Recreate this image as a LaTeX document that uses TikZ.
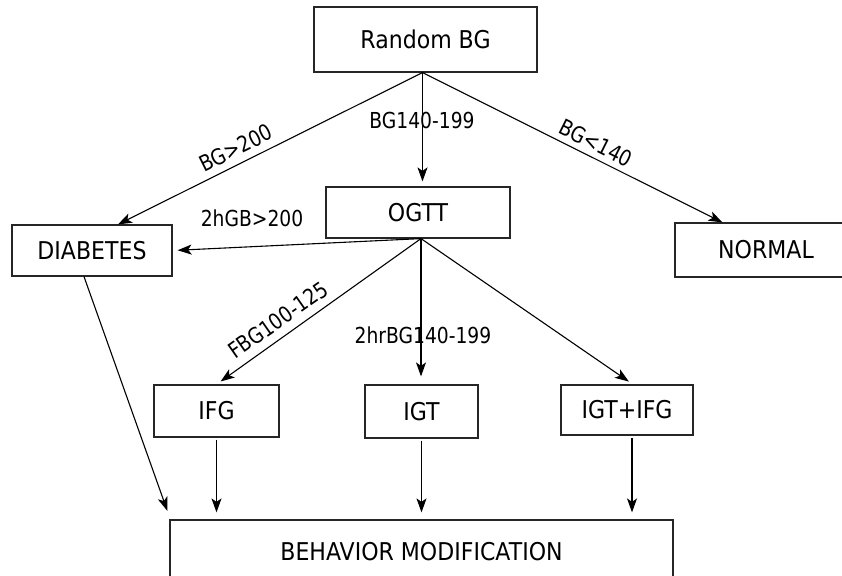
\documentclass[tikz,border=0pt]{standalone}
\usepackage{fontspec}
\setmainfont{DejaVu Sans}[FakeStretch=0.9]
\newfontfamily\lblfont{DejaVu Sans}[FakeStretch=0.85]
\usetikzlibrary{arrows.meta}

\begin{document}
\begin{tikzpicture}[x=1pt, y=-1pt,
    box/.style={rectangle, draw=black!85, line width=1.2pt, inner sep=0pt, font=\fontsize{24.5}{28}\selectfont},
    flow/.style={-{Stealth[length=14pt, width=10pt, inset=3.5pt]}, line width=1.1pt},
    lbl/.style={inner sep=0pt, font=\lblfont\fontsize{22}{26}\selectfont}]
        \useasboundingbox (0,0) rectangle (842,575);
        \clip (0,0) rectangle (842,575);

        \node[box, minimum width=223pt, minimum height=65pt] (rbg) at (425.5,39.5) {Random BG};
        \node[box, minimum width=184pt, minimum height=51pt] (ogtt) at (418,212.5) {OGTT};
        \node[box, minimum width=160pt, minimum height=51pt] (diab) at (92,250.5) {DIABETES};
        \node[box, minimum width=182pt, minimum height=54pt] (normal) at (766,250) {NORMAL};

        \node[box, minimum width=125pt, minimum height=52pt] (ifg) at (216.5,411) {IFG};
        \node[box, minimum width=113pt, minimum height=53pt] (igt) at (421.5,411.5) {IGT};
        \node[box, minimum width=132pt, minimum height=50pt] (igtifg) at (627,410) {IGT+IFG};

        \node[box, minimum width=503pt, minimum height=64pt] (behav) at (421.5,552) {BEHAVIOR MODIFICATION};

        % split points under the two test boxes
        \coordinate (top) at ([xshift=-3pt]rbg.south);
        \coordinate (mid) at ([xshift=3pt]ogtt.south);
        \coordinate (gx) at ([xshift=5pt]igtifg.south);

        \draw[flow] (top) -- ([xshift=26pt]diab.north);
        \draw[flow, shorten >=5pt] (top) -- (top |- ogtt.north);
        \draw[flow] (top) -- ([xshift=48pt]normal.north west);

        \draw[flow, shorten >=5pt] (mid) -- (diab.east);
        \draw[flow, shorten >=5pt] (mid) -- (ifg.north);
        \draw[flow, shorten >=8pt] (mid) -- (mid |- igt.north);
        \draw[flow, shorten >=5pt] (mid) -- ([xshift=6pt]igtifg.north);

        % everything ends in behavior modification
        \draw[flow, shorten >=9pt] ([xshift=-8pt]diab.south) -- ([xshift=1pt]behav.north west);
        \draw[flow, shorten <=2pt, shorten >=7pt] (ifg.south) -- (ifg.south |- behav.north);
        \draw[flow, shorten <=2pt, shorten >=7pt] (igt.south) -- (igt.south |- behav.north);
        \draw[flow, shorten <=2pt, shorten >=7pt] (gx) -- (gx |- behav.north);

        % test results
        \node[lbl, rotate=26.5] (l200) at (236,148) {BG>200};
        \node[lbl] (lmid) at (422,120) {BG140-199};
        \node[lbl, rotate=-26.5] (l140) at (596,143) {BG<140};
        \node[lbl] (l2h) at (252,218) {2hGB>200};
        \node[lbl, rotate=35] (lfbg) at (278,320) {FBG100-125};
        \node[lbl] (l2hr) at (423,335) {2hrBG140-199};
    \end{tikzpicture}
\end{document}
